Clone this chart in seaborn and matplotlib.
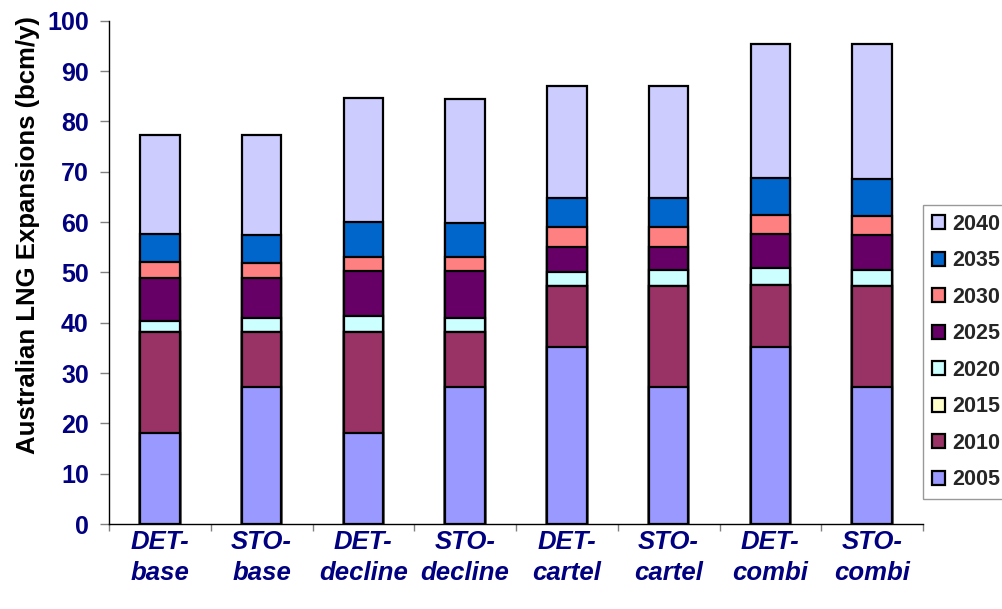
import matplotlib
matplotlib.use("Agg")
import matplotlib.pyplot as plt
from matplotlib.patches import Patch
from matplotlib.ticker import FixedLocator
import numpy as np
import pandas as pd
import seaborn as sns

# Scenarios and LNG expansion (bcm/y) added in each year
scenarios = ["DET-\nbase", "STO-\nbase", "DET-\ndecline", "STO-\ndecline",
             "DET-\ncartel", "STO-\ncartel", "DET-\ncombi", "STO-\ncombi"]
years = ["2005", "2010", "2015", "2020", "2025", "2030", "2035", "2040"]

exp_2005 = [18.0, 27.3, 18.0, 27.3, 35.2, 27.3, 35.2, 27.3]
exp_2010 = [20.2, 10.9, 20.2, 10.9, 12.1, 20.0, 12.2, 20.0]
exp_2015 = [0.0, 0.0, 0.0, 0.0, 0.0, 0.0, 0.0, 0.0]
exp_2020 = [2.2, 2.7, 3.2, 2.7, 2.8, 3.1, 3.5, 3.1]
exp_2025 = [8.5, 7.9, 8.9, 9.4, 5.0, 4.7, 6.7, 7.1]
exp_2030 = [3.1, 3.0, 2.8, 2.8, 4.0, 4.0, 3.8, 3.7]
exp_2035 = [5.6, 5.6, 7.0, 6.8, 5.6, 5.6, 7.3, 7.4]
exp_2040 = [19.7, 19.9, 24.5, 24.5, 22.4, 22.4, 26.7, 26.7]

colors = ["#9999FF", "#993366", "#FFFFCC", "#CCFFFF",
          "#660066", "#FF8080", "#0066CC", "#CCCCFF"]

series = [exp_2005, exp_2010, exp_2015, exp_2020,
          exp_2025, exp_2030, exp_2035, exp_2040]
cum = np.cumsum(np.array(series), axis=0)

sns.set_style("white")
plt.rcParams["font.family"] = ["Liberation Sans", "DejaVu Sans"]

W, H = 1002, 609
fig = plt.figure(figsize=(W / 100, H / 100), dpi=100)
ax_left, ax_right, ax_top, ax_bottom = 109, 923, 20.7, 524
ax = fig.add_axes([ax_left / W, (H - ax_bottom) / H,
                   (ax_right - ax_left) / W, (ax_bottom - ax_top) / H])

# Stacked bars: draw cumulative totals from the top layer down
for i in range(len(years) - 1, -1, -1):
    df = pd.DataFrame({"scenario": scenarios, "total": cum[i]})
    sns.barplot(data=df, x="scenario", y="total", color=colors[i],
                saturation=1, width=0.39, edgecolor="black", linewidth=1.6,
                errorbar=None, ax=ax)

ax.set_ylim(0, 100)
ax.set_xlim(-0.5, len(scenarios) - 0.5)
ax.set_yticks(np.arange(0, 101, 10))
ax.set_xlabel("")
ax.set_ylabel("Australian LNG Expansions (bcm/y)", fontsize=18.5,
              fontweight="bold", color="black")
ax.yaxis.set_label_coords(-0.085, 0.575)

ax.tick_params(axis="y", which="major", direction="out", length=6.5,
               width=1, color="#808080", labelcolor="#000080",
               labelsize=18, left=True, pad=8)
for lbl in ax.get_yticklabels():
    lbl.set_fontweight("bold")

ax.set_xticks(range(len(scenarios)))
ax.set_xticklabels(scenarios, fontsize=18.5, fontweight="bold",
                   fontstyle="italic", color="#000080", linespacing=1.4)
ax.tick_params(axis="x", which="major", length=0, pad=4)
ax.xaxis.set_minor_locator(FixedLocator(np.arange(-0.5, len(scenarios), 1)))
ax.tick_params(axis="x", which="minor", direction="out", length=5,
               width=1, color="#808080", bottom=True)

for side in ["top", "right"]:
    ax.spines[side].set_visible(False)
for side in ["left", "bottom"]:
    ax.spines[side].set_color("black")
    ax.spines[side].set_linewidth(1.0)
ax.grid(False)

handles = [Patch(facecolor=colors[i], edgecolor="black", linewidth=1.6,
                 label=years[i]) for i in range(len(years) - 1, -1, -1)]
leg = fig.legend(handles=handles, loc="upper left",
                 bbox_to_anchor=(923 / W, 1 - 205 / H),
                 prop={"weight": "bold", "size": 15.5},
                 handlelength=0.62, handleheight=0.62, handletextpad=0.35,
                 labelspacing=0.72, borderpad=0.4, borderaxespad=0,
                 frameon=True, fancybox=False)
leg.get_frame().set_edgecolor("#808080")
leg.get_frame().set_linewidth(1.0)

fig.savefig("out.png", dpi=100)
